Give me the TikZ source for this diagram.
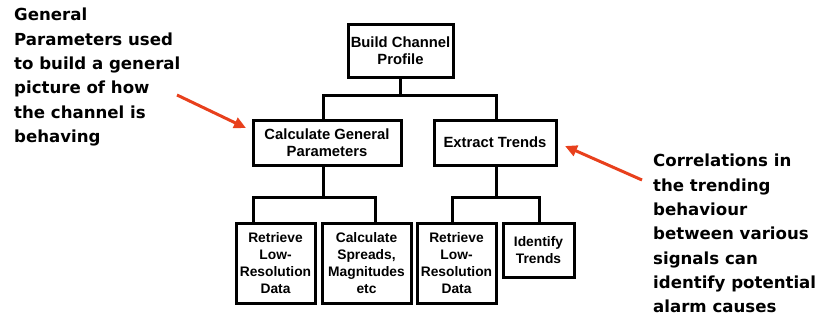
\documentclass[tikz,border=0pt]{standalone}
\usepackage{fontspec}
\setmainfont{Liberation Sans}
\newfontfamily\notefont{DejaVu Sans}
\usetikzlibrary{arrows.meta}
\definecolor{notered}{HTML}{E8401C}
\begin{document}
\begin{tikzpicture}[x=1pt,y=-1pt,
  box/.style={draw,line width=3pt,inner sep=0pt,align=center,
    font=\bfseries\fontsize{14.8}{17}\selectfont},
  smallbox/.style={box,font=\bfseries\fontsize{13.8}{17}\selectfont},
  link/.style={line width=3pt,line cap=rect},
  note/.style={anchor=north west,align=left,inner sep=0pt,
    font=\notefont\bfseries\fontsize{16.6}{24.3}\selectfont},
  pointer/.style={draw=notered,line width=3pt,
    -{Triangle[length=12pt,width=11pt]}}]
\useasboundingbox (0,0) rectangle (818,321);

% tree boxes
\node[box,minimum width=105pt,minimum height=52pt] (top) at (400.5,51)
  {Build Channel\\Profile};
\node[box,minimum width=148pt,minimum height=45pt] (calc) at (327,142.5)
  {Calculate General\\Parameters};
\node[box,minimum width=122pt,minimum height=45pt] (extract) at (495,142.5)
  {Extract Trends};
\node[smallbox,minimum width=79pt,minimum height=80pt] (ret1) at (275.5,263)
  {Retrieve\\Low-\\Resolution\\Data};
\node[smallbox,minimum width=89pt,minimum height=80pt] (spread) at (366.5,263)
  {Calculate\\Spreads,\\Magnitudes\\etc};
\node[smallbox,minimum width=79pt,minimum height=80pt] (ret2) at (456.5,263)
  {Retrieve\\Low-\\Resolution\\Data};
\node[smallbox,minimum width=71pt,minimum height=54pt] (ident) at (538.5,250)
  {Identify\\Trends};

% bus corners
\coordinate (u1) at (323,95);
\coordinate (u2) at (496,95);
\coordinate (l1) at (253,197);
\coordinate (l2) at (375,197);
\coordinate (r1) at (452,197);
\coordinate (r2) at (539,197);

% connectors
\draw[link] (top.south) -- (top.south |- u1);
\draw[link] (calc.north -| u1) -- (u1) -- (u2) -- (extract.north -| u2);
\draw[link] (calc.south -| u1) -- (u1 |- l1);
\draw[link] (ret1.north -| l1) -- (l1) -- (l2) -- (spread.north -| l2);
\draw[link] (extract.south -| u2) -- (u2 |- r1);
\draw[link] (ret2.north -| r1) -- (r1) -- (r2) -- (ident.north -| r2);

% annotations
\node[note] (leftnote) at (14,8)
  {General\\Parameters used\\to build a general\\picture of how\\the channel is\\behaving};
\node[note] (rightnote) at (653,154)
  {Correlations in\\the trending\\behaviour\\between various\\signals can\\identify potential\\alarm causes};

\coordinate (ltail) at (177,95);
\coordinate (lhead) at (246,128);
\coordinate (rtail) at (642,180);
\coordinate (rhead) at (565,146);
\draw[pointer] (ltail) -- (lhead);
\draw[pointer] (rtail) -- (rhead);
\end{tikzpicture}
\end{document}
